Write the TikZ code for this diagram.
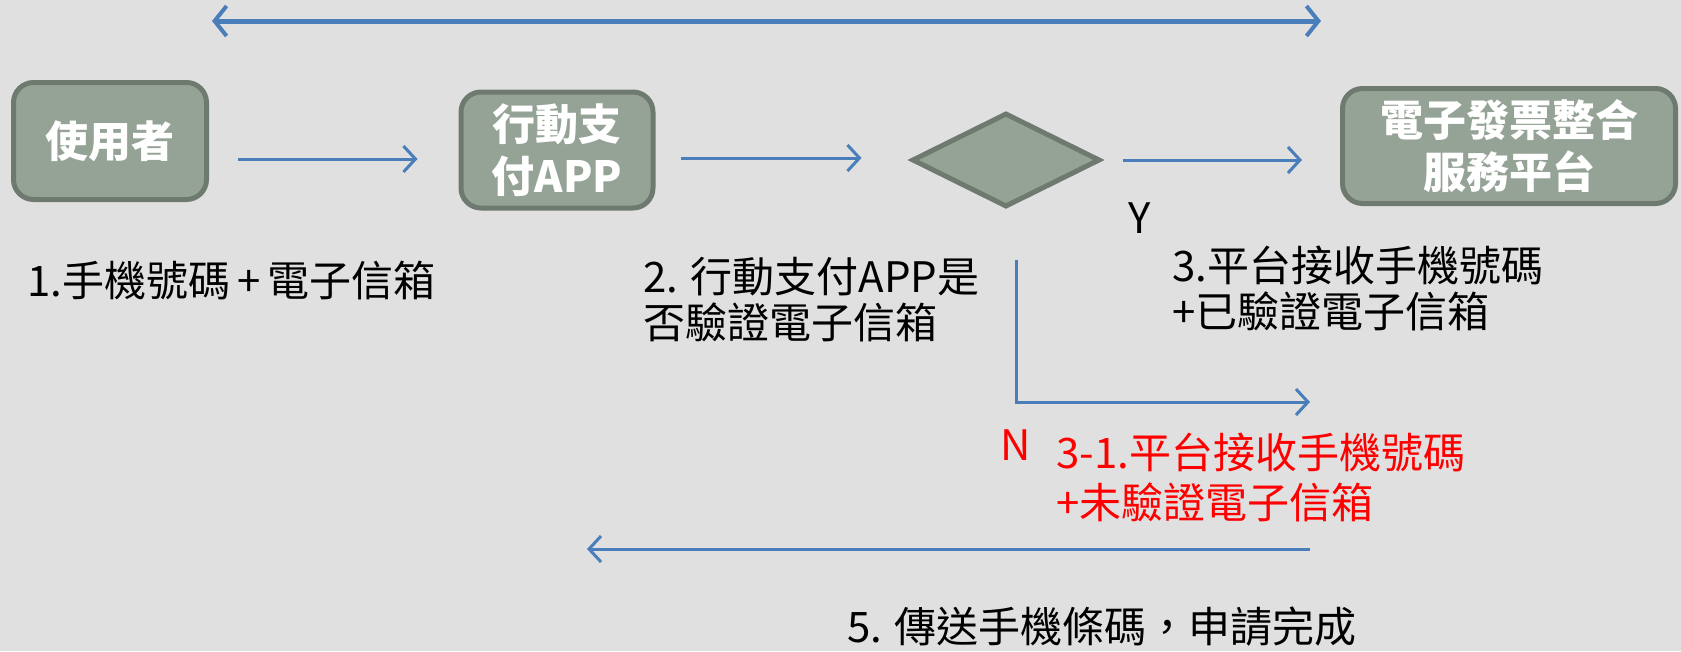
\documentclass[tikz,border=0pt]{standalone}
\usepackage{fontspec}
\setmainfont{Noto Sans CJK TC}
\usetikzlibrary{positioning,shapes.geometric,arrows.meta}
\definecolor{bggrey}{HTML}{E0E0E0}
\definecolor{boxfill}{HTML}{95A396}
\definecolor{boxline}{HTML}{6E7A70}
\definecolor{flowblue}{HTML}{4A7EBB}
\definecolor{nored}{HTML}{FF0000}
\tikzset{
  box/.style={rectangle, rounded corners=20pt, draw=boxline, fill=boxfill, line width=5pt,
    text=white, align=center, inner sep=0pt, font=\fontsize{43}{52}\selectfont\bfseries},
  check/.style={diamond, draw=boxline, fill=boxfill, line width=5pt, inner sep=0pt},
  arrow/.style={draw=flowblue, line width=3pt, -{Straight Barb[length=12pt,width=26pt,line width=3pt]}},
  both/.style={draw=flowblue, line width=5pt, {Straight Barb[length=12pt,width=30pt,line width=4pt]}-{Straight Barb[length=12pt,width=30pt,line width=4pt]}},
  lbl/.style={anchor=west, align=left, inner sep=0pt, font=\fontsize{42}{46}\selectfont},
}

\begin{document}
\begin{tikzpicture}[x=1pt,y=1pt]
\fill[bggrey] (0,0) rectangle (1681,-651);
\useasboundingbox (0,0) rectangle (1681,-651);

% main flow
\node [box, minimum width=193pt, minimum height=117pt] (user) at (110,-141) {使用者};
\node [box, minimum width=192pt, minimum height=116pt] (app) at (557,-150) {行動支\\付APP};
\node [check, minimum width=188pt, minimum height=94pt] (dia) at (1006,-160) {};
\node [box, minimum width=333pt, minimum height=115pt] (plat) at (1509,-146) {電子發票整合\\服務平台};

\coordinate (tleft) at (212,-21);
\coordinate (tright) at (1321,-21);
\coordinate (nend) at (1310,-402);
\coordinate (bright) at (1310,-549);
\coordinate (bleft) at (587,-549);

% labels
\node [lbl] (step1) at (27,-281) {1.手機號碼\,+\,電子信箱};
\node [lbl] (step2) at (643,-300) {2. 行動支付APP是\\否驗證電子信箱};
\node [lbl] (step3) at (1172,-288) {3.平台接收手機號碼\\+已驗證電子信箱};
\node [lbl, text=nored, font=\fontsize{42}{50}\selectfont] (step31) at (1056,-477) {3-1.平台接收手機號碼\\+未驗證電子信箱};
\node [lbl] (step5) at (847,-627) {5. 傳送手機條碼，申請完成};
\node [inner sep=0pt, font=\fontsize{42}{46}\selectfont] (ylbl) at (1140,-218) {Y};
\node [inner sep=0pt, text=nored, font=\fontsize{42}{46}\selectfont] (nlbl) at (1016,-445) {N};

% connectors
\draw [both] (tleft) -- (tright);
\draw [arrow, shorten <=29pt, shorten >=41pt] ([yshift=-18pt]user.east) -- ([yshift=-9pt]app.west);
\draw [arrow, shorten <=25pt, shorten >=48pt] ([yshift=-8pt]app.east) -- ([yshift=2pt]dia.west);
\draw [arrow, shorten <=20pt, shorten >=38pt] (dia.east) -- (dia.east -| plat.west);
\draw [arrow, shorten <=50pt] ([xshift=10pt]dia.south) |- (nend);
\draw [arrow] (bright) -- (bleft);

\end{tikzpicture}
\end{document}
